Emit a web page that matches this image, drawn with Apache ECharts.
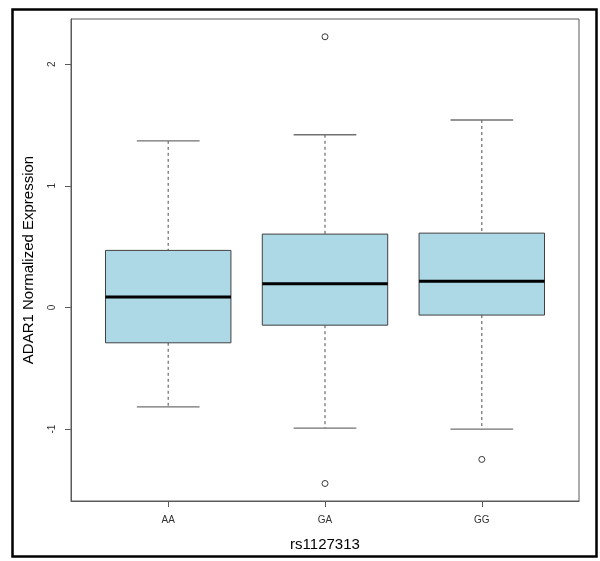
<!DOCTYPE html>
<html>
<head>
<meta charset="utf-8">
<script src="https://cdn.jsdelivr.net/npm/echarts@6/dist/echarts.min.js"></script>
<style>
html,body{margin:0;padding:0;background:#fff;}
#chart{width:600px;height:561px;}
</style>
</head>
<body>
<div id="chart"></div>
<script>
// ---- data ----
const categories = ['AA', 'GA', 'GG'];
const lowerWhisker = [-0.818, -0.993, -1.001];
const q1 = [-0.291, -0.146, -0.063];
const median = [0.085, 0.194, 0.216];
const q3 = [0.469, 0.603, 0.611];
const upperWhisker = [1.370, 1.420, 1.541];
const outlierCategory = ['GA', 'GA', 'GG'];
const outlierValue = [2.226, -1.448, -1.250];
const yTicks = [-1, 0, 1, 2];

// ---- build ----
const boxData = categories.map((c, i) => [i + 1, lowerWhisker[i], q1[i], median[i], q3[i], upperWhisker[i]]);
const outlierData = outlierValue.map((v, i) => [categories.indexOf(outlierCategory[i]) + 1, v]);

const chart = echarts.init(document.getElementById('chart'), null, {renderer: 'canvas'});
const font = '"Liberation Sans", Arial, sans-serif';

function renderBox(params, api) {
  const x = api.value(0);
  const lo = api.value(1), b1 = api.value(2), md = api.value(3), b3 = api.value(4), hi = api.value(5);
  const hw = 0.4, cw = 0.2;
  const pTL = api.coord([x - hw, b3]);
  const pBR = api.coord([x + hw, b1]);
  const c = api.coord([x, md]);
  const pHi = api.coord([x, hi]);
  const pLo = api.coord([x, lo]);
  const pB3 = api.coord([x, b3]);
  const pB1 = api.coord([x, b1]);
  const capL = api.coord([x - cw, hi])[0];
  const capR = api.coord([x + cw, hi])[0];
  const medL = pTL[0], medR = pBR[0];
  const wStyle = {stroke: '#6a6a6a', lineWidth: 1.2, lineDash: [3, 3]};
  const capStyle = {stroke: '#707070', lineWidth: 1.4};
  return {
    type: 'group',
    children: [
      {type: 'line', shape: {x1: pHi[0], y1: pHi[1], x2: pB3[0], y2: pB3[1]}, style: wStyle},
      {type: 'line', shape: {x1: pB1[0], y1: pB1[1], x2: pLo[0], y2: pLo[1]}, style: wStyle},
      {type: 'line', shape: {x1: capL, y1: pHi[1], x2: capR, y2: pHi[1]}, style: capStyle},
      {type: 'line', shape: {x1: capL, y1: pLo[1], x2: capR, y2: pLo[1]}, style: capStyle},
      {type: 'rect', shape: {x: pTL[0], y: pTL[1], width: pBR[0] - pTL[0], height: pBR[1] - pTL[1]},
        style: {fill: '#ADD8E6', stroke: '#404040', lineWidth: 1}},
      {type: 'line', shape: {x1: medL, y1: c[1], x2: medR, y2: c[1]}, style: {stroke: '#000', lineWidth: 3}}
    ]
  };
}

chart.setOption({
  animation: false,
  backgroundColor: '#fff',
  grid: {left: 71, right: 21, top: 19, bottom: 60, show: true, borderColor: '#5a5a5a', borderWidth: 1, backgroundColor: 'transparent'},
  xAxis: {
    type: 'value', min: 0.38, max: 3.62,
    name: 'rs1127313', nameLocation: 'middle', nameGap: 36,
    nameTextStyle: {fontFamily: font, fontSize: 15, color: '#000'},
    axisLine: {show: true, onZero: false, lineStyle: {color: '#5a5a5a'}},
    axisTick: {show: true, length: 6, customValues: [1, 2, 3], lineStyle: {color: '#5a5a5a'}},
    axisLabel: {customValues: [1, 2, 3], margin: 14, fontFamily: font, fontSize: 10, color: '#333',
      formatter: v => categories[Math.round(v) - 1]},
    splitLine: {show: false}
  },
  yAxis: {
    type: 'value', min: -1.592, max: 2.372,
    name: 'ADAR1 Normalized Expression', nameLocation: 'middle', nameGap: 35, nameRotate: 90,
    nameTextStyle: {fontFamily: font, fontSize: 15, color: '#000'},
    axisLine: {show: true, onZero: false, lineStyle: {color: '#5a5a5a'}},
    axisTick: {show: true, length: 6, customValues: yTicks, lineStyle: {color: '#5a5a5a'}},
    axisLabel: {customValues: yTicks, rotate: 90, margin: 14, fontFamily: font, fontSize: 10, color: '#333',
      formatter: v => String(v)},
    splitLine: {show: false}
  },
  graphic: [{
    type: 'rect', left: 10, top: 7, silent: true,
    shape: {x: 0, y: 0, width: 584, height: 547},
    style: {fill: 'none', stroke: '#000', lineWidth: 2.5}
  }],
  series: [
    {type: 'custom', renderItem: renderBox, data: boxData, encode: {x: 0, y: [1, 2, 3, 4, 5]}, clip: false},
    {type: 'scatter', data: outlierData, symbol: 'circle', symbolSize: 6, z: 5,
      itemStyle: {color: '#ffffff', borderColor: '#3a3a3a', borderWidth: 1, opacity: 1}}
  ]
});
</script>
</body>
</html>
